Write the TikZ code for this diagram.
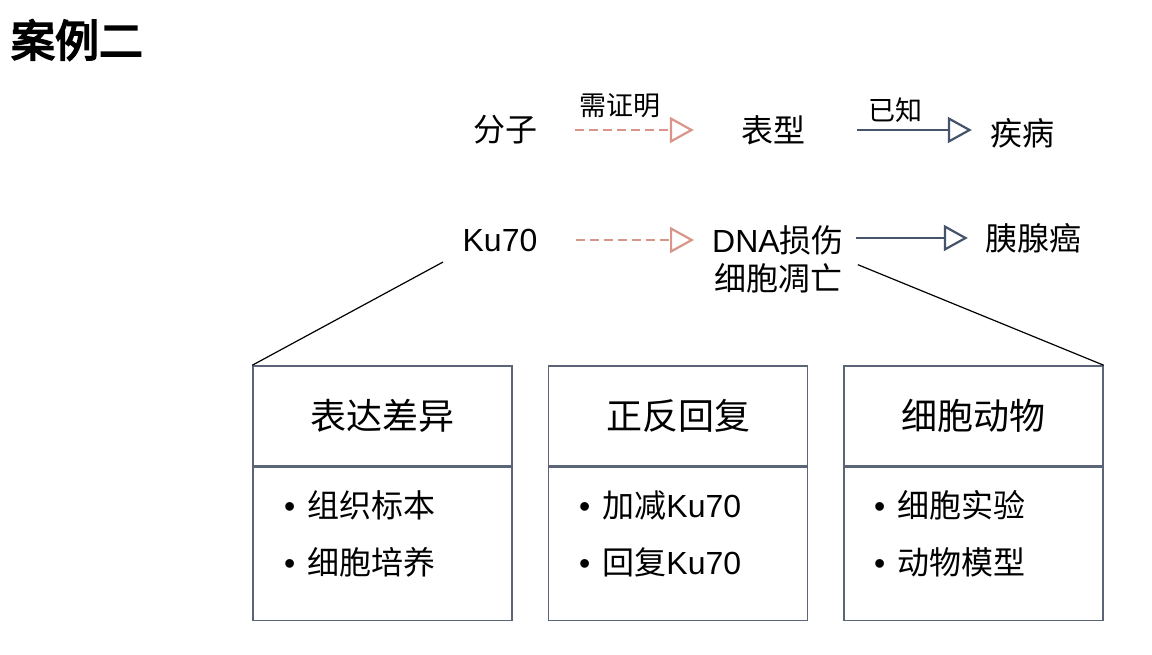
\documentclass[tikz,border=0pt]{standalone}
\usepackage{fontspec}
\setmainfont{Noto Sans CJK SC}
\newfontfamily\titlefont[FakeBold=4]{Noto Sans CJK SC}
\newfontfamily\latinfont{Liberation Sans}
\usepackage{tikz}
\usetikzlibrary{arrows.meta,positioning}
\definecolor{dashred}{HTML}{D9958A}
\definecolor{slate}{HTML}{44546A}
\definecolor{boxline}{HTML}{5B6577}
\newcommand{\dotitem}{{\latinfont\textbullet}\hspace{12pt}}
\tikzset{
    txt/.style={inner sep=0pt, font=\fontsize{32}{38}\selectfont},
    lbl/.style={inner sep=0pt, font=\fontsize{27}{30}\selectfont},
    todo/.style={draw=dashred, line width=2.2pt, dash pattern=on 9pt off 5pt,
        -{Triangle[open,length=24pt,width=26pt,line width=2.2pt]}},
    known/.style={draw=slate, line width=2.2pt,
        -{Triangle[open,length=24pt,width=26pt,line width=2.2pt]}},
    link/.style={draw=black, line width=1.2pt},
    hdr/.style={draw=boxline, line width=1.5pt, minimum width=259pt, minimum height=100pt,
        inner sep=0pt, font=\fontsize{36}{40}\selectfont},
    body/.style={draw=boxline, line width=1.5pt, minimum width=259pt, minimum height=153pt,
        inner sep=0pt},
    item/.style={inner sep=0pt, anchor=west, font=\fontsize{32}{38}\selectfont}
}
\begin{document}
\begin{tikzpicture}[x=1pt,y=-1pt]
        \useasboundingbox[fill=white] (0,0) rectangle (1152,654);
        % Title
        \node[inner sep=0pt, font=\titlefont\fontsize{44}{48}\selectfont] (title) at (77,40) {案例二};
        % First row
        \node[txt] (mol) at (505,130) {分子};
        \node[txt] (phe) at (773,130) {表型};
        \node[txt] (dis) at (1022,133) {疾病};
        \node[lbl] (prove) at (620,106) {需证明};
        \node[lbl] (known) at (895,110) {已知};
        \draw[todo, shorten <=38pt, shorten >=47pt] (mol.east) -- (mol.east -| phe.west);
        \draw[known, shorten <=52pt, shorten >=18pt] (phe.east) -- (phe.east -| dis.west);
        % Second row
        \node[txt] (ku) at (500,240) {\latinfont Ku70};
        \node[txt, align=center] (dna) at (778,259) {{\latinfont DNA}损伤\\细胞凋亡};
        \node[txt] (pan) at (1033,238) {胰腺癌};
        \draw[todo, shorten <=38pt, shorten >=18pt] (ku.east) -- (ku.east -| dna.west);
        \draw[known, shorten <=12pt, shorten >=17pt] (dna.east |- pan.west) -- (pan.west);
        % Boxes
        \node[hdr] (hdr1) at (382.5,416) {表达差异};
        \node[body, below=0pt of hdr1] (body1) {};
        \node[hdr] (hdr2) at (678,416) {正反回复};
        \node[body, below=0pt of hdr2] (body2) {};
        \node[hdr] (hdr3) at (973.5,416) {细胞动物};
        \node[body, below=0pt of hdr3] (body3) {};
        % Items
        \node[item] (i11) at (284,505) {\dotitem 组织标本};
        \node[item] (i12) at (284,562) {\dotitem 细胞培养};
        \node[item] (i21) at (579,505) {\dotitem 加减{\latinfont Ku70}};
        \node[item] (i22) at (579,562) {\dotitem 回复{\latinfont Ku70}};
        \node[item] (i31) at (874,505) {\dotitem 细胞实验};
        \node[item] (i32) at (874,562) {\dotitem 动物模型};
        % Links to boxes
        \draw[link, shorten <=22pt] (ku.south west) -- (hdr1.north west);
        \draw[link, shorten <=15pt] (dna.east) -- (hdr3.north east);
    \end{tikzpicture}
\end{document}
